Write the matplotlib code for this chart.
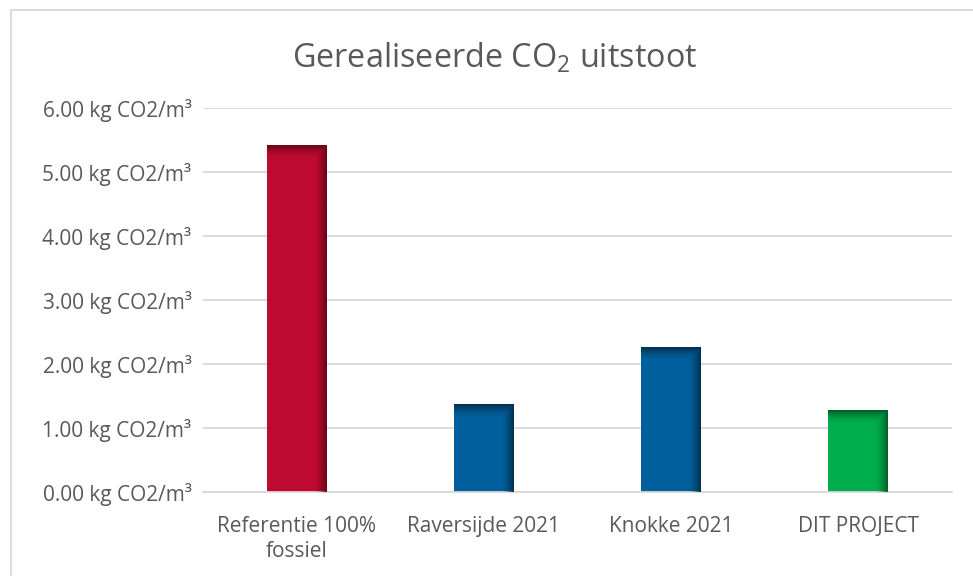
import numpy as np
import matplotlib.pyplot as plt
from matplotlib.patches import Rectangle
from matplotlib.colors import to_rgb

categories = ["Referentie 100%\nfossiel", "Raversijde 2021", "Knokke 2021", "DIT PROJECT"]
values = [5.41, 1.36, 2.25, 1.28]
colors = ["#BE0A2F", "#005F9C", "#005F9C", "#00AD4D"]
dark_colors = ["#6A0618", "#00304F", "#00304F", "#00612A"]
yticks = [0, 1, 2, 3, 4, 5, 6]

plt.rcParams['font.family'] = ['Open Sans', 'DejaVu Sans']
plt.rcParams['mathtext.fontset'] = 'custom'
plt.rcParams['mathtext.rm'] = 'Open Sans'
text_color = "#595959"
grid_color = "#D9D9D9"

fig = plt.figure(figsize=(9.73, 5.76), dpi=100)
ax = fig.add_axes([0.209, 0.1458, 0.769, 0.6667])

x = np.arange(len(categories))
bars = ax.bar(x, values, width=0.32, color=colors, zorder=2)

ax.set_xlim(-0.5, len(categories) - 0.5)
ax.set_ylim(0, 6)
ax.set_yticks(yticks)
ax.set_yticklabels([f"{v:.2f} kg CO2/m³" for v in yticks])
ax.set_xticks(x)
ax.set_xticklabels(categories)
ax.tick_params(axis='both', length=0, colors=text_color, labelsize=15)
ax.tick_params(axis='y', pad=8.5)
ax.tick_params(axis='x', pad=17)
for lab in ax.get_xticklabels():
    lab.set_linespacing(1.3)

ax.grid(axis='y', color=grid_color, lw=1.3, zorder=0)
for s in ['top', 'right', 'left']:
    ax.spines[s].set_visible(False)
ax.spines['bottom'].set_color(grid_color)
ax.spines['bottom'].set_linewidth(1.3)

# shading: darker band at top and right edge of each bar
fig.canvas.draw()
for bar, c, d in zip(bars, colors, dark_colors):
    bx, by, bw, bh = bar.get_x(), bar.get_y(), bar.get_width(), bar.get_height()
    p0 = ax.transData.transform((bx, by))
    p1 = ax.transData.transform((bx + bw, by + bh))
    nx = max(int(round(p1[0] - p0[0])), 2)
    ny = max(int(round(p1[1] - p0[1])), 2)
    xi = np.arange(nx)[None, :]
    yi = np.arange(ny)[:, None]
    band = 12.0
    tr = np.clip(1 - (nx - 1 - xi) / band, 0, 1) ** 1.5
    tt = np.clip(1 - yi / band, 0, 1) ** 1.5
    t = np.maximum(tr, tt)
    cd = np.array(to_rgb(d))
    img = np.zeros((ny, nx, 4))
    img[..., :3] = cd
    img[..., 3] = t
    ax.imshow(img, extent=[bx, bx + bw, by, by + bh], aspect='auto',
              origin='upper', zorder=3, interpolation='bilinear')
ax.set_xlim(-0.5, len(categories) - 0.5)
ax.set_ylim(0, 6)

fig.text(0.508, 1 - 68 / 576, "Gerealiseerde CO$_2$ uitstoot", ha='center', va='baseline',
         fontsize=23.3, color=text_color)

fig.patches.append(Rectangle((11 / 973, -0.1), 1.0, 1.1 - 9.5 / 576,
                             transform=fig.transFigure, fill=False,
                             edgecolor=grid_color, lw=1.3))

fig.savefig("out.png", dpi=100)
